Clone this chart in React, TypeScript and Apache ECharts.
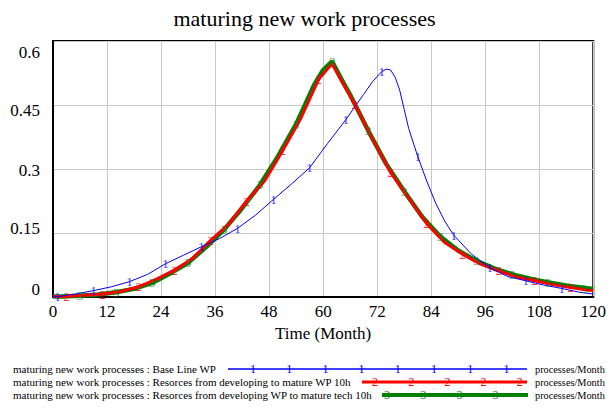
import React, { useEffect, useRef } from "react";
import * as echarts from "echarts";

// ---- data ----
const titleText = "maturing new work processes";
const xTicks = [0, 12, 24, 36, 48, 60, 72, 84, 96, 108, 120];
const yTicks = [0, 0.15, 0.3, 0.45, 0.6];

const seriesNames = [
  "maturing new work processes : Base Line WP",
  "maturing new work processes : Resorces from developing to mature WP 10h",
  "maturing new work processes : Resorces from developing WP to mature tech 10h",
];
const unitText = "processes/Month";

const blueT = [0, 1, 5, 9, 13, 17, 21, 25, 29, 33, 37, 41, 45, 49, 53, 57, 61, 65, 69, 71, 73, 74, 75, 76, 77, 78, 79, 81, 83, 85, 87, 89, 93, 97, 101, 105, 109, 113, 117, 120];
const blueV = [0, 0.001, 0.007, 0.015, 0.024, 0.036, 0.053, 0.078, 0.098, 0.118, 0.137, 0.161, 0.192, 0.229, 0.265, 0.303, 0.36, 0.415, 0.475, 0.505, 0.528, 0.534, 0.532, 0.515, 0.485, 0.44, 0.395, 0.33, 0.272, 0.22, 0.178, 0.145, 0.1, 0.069, 0.048, 0.038, 0.028, 0.02, 0.011, 0.007];

const redT = [0, 3, 7, 11, 15, 19, 23, 27, 31, 35, 39, 43, 47, 51, 55, 59, 61, 62, 63, 67, 71, 75, 79, 83, 87, 91, 95, 99, 103, 107, 111, 115, 119, 120];
const redV = [0.001, 0.002, 0.004, 0.007, 0.013, 0.024, 0.042, 0.063, 0.09, 0.133, 0.17, 0.225, 0.272, 0.343, 0.418, 0.51, 0.535, 0.546, 0.527, 0.452, 0.37, 0.292, 0.232, 0.172, 0.128, 0.1, 0.077, 0.061, 0.047, 0.038, 0.029, 0.022, 0.016, 0.015];

const greenT = [0, 2, 6, 10, 14, 18, 22, 26, 30, 34, 38, 42, 46, 50, 54, 58, 60, 62, 64, 66, 70, 74, 78, 82, 86, 90, 94, 98, 102, 106, 110, 114, 118, 120];
const greenV = [0.001, 0.001, 0.003, 0.006, 0.011, 0.019, 0.033, 0.055, 0.08, 0.117, 0.158, 0.208, 0.263, 0.33, 0.405, 0.497, 0.532, 0.552, 0.512, 0.474, 0.39, 0.312, 0.248, 0.188, 0.142, 0.109, 0.085, 0.067, 0.053, 0.043, 0.034, 0.027, 0.021, 0.019];

const blueMarkT = [1, 9, 17, 25, 33, 41, 49, 57, 65, 73, 81, 89, 97, 105, 113];
const redMarkT = [3, 11, 19, 27, 35, 43, 51, 59, 67, 75, 83, 91, 99, 107, 115];
const greenMarkT = [6, 14, 22, 30, 38, 46, 54, 62, 70, 78, 86, 94, 102, 110, 118];

// ---- styles ----
const FONT = '"Liberation Serif", "Times New Roman", serif';
const BLUE = "#0000ff";
const RED = "#ff0000";
const GREEN = "#008000";

const pairs = (t: number[], v: number[]) => t.map((x, i) => [x, v[i]]);
const marks = (mt: number[], t: number[], v: number[]) =>
  mt.map((x) => [x, v[t.indexOf(x)]]);

function markerSeries(data: number[][], digit: string, color: string, z: number) {
  return {
    type: "scatter",
    data,
    symbol: "circle",
    symbolSize: 1,
    itemStyle: { color: "rgba(0,0,0,0)" },
    z,
    silent: true,
    label: {
      show: true,
      position: "inside",
      formatter: digit,
      color,
      fontFamily: FONT,
      fontSize: 13,
    },
  };
}

function legendRow(y: number, name: string, color: string, width: number, x0: number, x1: number, digit: string, firstDigit: number) {
  const els: any[] = [
    {
      type: "text",
      x: 13,
      y,
      style: { text: name, fontFamily: FONT, fontSize: 11, fill: "#000", verticalAlign: "middle" },
    },
    {
      type: "line",
      shape: { x1: x0, y1: y, x2: x1, y2: y },
      style: { stroke: color, lineWidth: width },
    },
    {
      type: "text",
      x: 535,
      y,
      style: { text: unitText, fontFamily: FONT, fontSize: 10.3, fill: "#000", verticalAlign: "middle" },
    },
  ];
  for (let x = firstDigit; x < x1 - 4; x += 36.2) {
    els.push({
      type: "text",
      x,
      y,
      style: { text: digit, fontFamily: FONT, fontSize: 12, fill: color, align: "center", verticalAlign: "middle" },
    });
  }
  return els;
}

export default function App() {
  const ref = useRef<HTMLDivElement>(null);

  useEffect(() => {
    if (!ref.current) return;
    const chart = echarts.init(ref.current, undefined, { renderer: "svg" });
    const yRich: any = {
      p0: { fontFamily: FONT, fontSize: 17, color: "#000", padding: [0, 0, 16, 0] },
      p1: { fontFamily: FONT, fontSize: 17, color: "#000", padding: [0, 0, 10, 0] },
      p2: { fontFamily: FONT, fontSize: 17, color: "#000", padding: [2, 0, 0, 0] },
      p3: { fontFamily: FONT, fontSize: 17, color: "#000", padding: [10, 0, 0, 0] },
      p4: { fontFamily: FONT, fontSize: 17, color: "#000", padding: [23, 0, 0, 0] },
    };
    chart.setOption({
      animation: false,
      backgroundColor: "#fff",
      title: {
        text: titleText,
        left: "center",
        top: 2,
        textStyle: { fontFamily: FONT, fontSize: 22, fontWeight: "normal", color: "#000" },
      },
      grid: {
        left: 53,
        right: 14,
        top: 41,
        bottom: 111,
        show: true,
        borderColor: "#000",
        borderWidth: 2,
        backgroundColor: "#fff",
      },
      xAxis: {
        type: "value",
        min: xTicks[0],
        max: xTicks[xTicks.length - 1],
        interval: 12,
        name: "Time (Month)",
        nameLocation: "middle",
        nameGap: 19,
        nameTextStyle: { fontFamily: FONT, fontSize: 17, color: "#000" },
        axisLine: { show: true, lineStyle: { color: "#000", width: 2 } },
        axisTick: { show: false },
        axisLabel: { fontFamily: FONT, fontSize: 17, color: "#000", margin: 6 },
        splitLine: { show: true, lineStyle: { color: "#c8c8c8", width: 1 } },
      },
      yAxis: {
        type: "value",
        min: yTicks[0],
        max: yTicks[yTicks.length - 1],
        interval: 0.15,
        axisLine: { show: true, lineStyle: { color: "#000", width: 2 } },
        axisTick: { show: false },
        axisLabel: {
          margin: 13,
          formatter: (v: number) => {
            const i = yTicks.findIndex((t) => Math.abs(t - v) < 1e-6);
            return `{p${i}|${String(Math.round(v * 100) / 100)}}`;
          },
          rich: yRich,
        },
        splitLine: { show: true, lineStyle: { color: "#c8c8c8", width: 1 } },
      },
      series: [
        {
          type: "line",
          name: seriesNames[2],
          data: pairs(greenT, greenV),
          showSymbol: false,
          lineStyle: { color: GREEN, width: 4.5 },
          z: 2,
        },
        {
          type: "line",
          name: seriesNames[1],
          data: pairs(redT, redV),
          showSymbol: false,
          lineStyle: { color: RED, width: 3 },
          z: 3,
        },
        {
          type: "line",
          name: seriesNames[0],
          data: pairs(blueT, blueV),
          showSymbol: false,
          lineStyle: { color: BLUE, width: 1 },
          z: 4,
        },
        markerSeries(marks(greenMarkT, greenT, greenV), "3", GREEN, 5),
        markerSeries(marks(redMarkT, redT, redV), "2", RED, 6),
        markerSeries(marks(blueMarkT, blueT, blueV), "1", BLUE, 7),
      ],
      graphic: [
        ...legendRow(369, seriesNames[0], BLUE, 1.5, 228, 527, "1", 253),
        ...legendRow(382, seriesNames[1], RED, 3, 362, 527, "2", 375),
        ...legendRow(395, seriesNames[2], GREEN, 4, 382, 528, "3", 387),
      ],
    });
    return () => chart.dispose();
  }, []);

  return (
    <div
      ref={ref}
      style={{ position: "fixed", left: 0, top: 0, width: 609, height: 408 }}
    />
  );
}
